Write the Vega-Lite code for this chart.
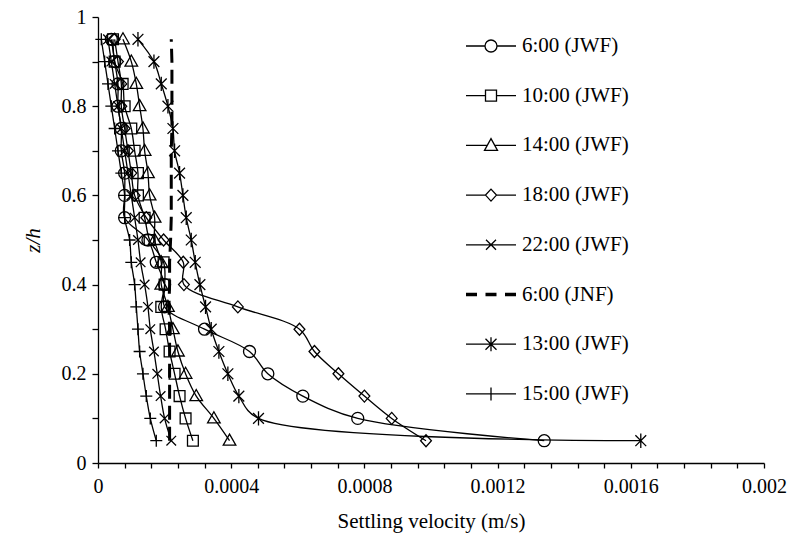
{
  "$schema": "https://vega.github.io/schema/vega-lite/v6.json",
  "width": 666,
  "height": 446,
  "autosize": {"type": "none"},
  "padding": {"left": 98, "top": 17, "right": 28, "bottom": 93},
  "background": "white",
  "config": {
    "view": {"stroke": null},
    "font": "serif",
    "style": {
      "guide-label": {"font": "serif"},
      "guide-title": {"font": "serif"}
    },
    "axis": {
      "grid": false,
      "domainColor": "black",
      "domainWidth": 1.3,
      "tickColor": "black",
      "tickWidth": 1.3,
      "labelColor": "black",
      "titleColor": "black",
      "labelFont": "serif",
      "titleFont": "serif",
      "labelFontSize": 20,
      "titleFontSize": 21,
      "titleFontWeight": "normal",
      "labelOverlap": false,
      "labelFlush": false,
      "labelBound": false
    },
    "axisY": {"titleFontStyle": "italic"}
  },
  "data": {
    "values": [
      {"series": "6:00 (JWF)", "z": 0.95, "v": 0.00004},
      {"series": "6:00 (JWF)", "z": 0.9, "v": 0.00005},
      {"series": "6:00 (JWF)", "z": 0.85, "v": 0.00006},
      {"series": "6:00 (JWF)", "z": 0.8, "v": 0.00006},
      {"series": "6:00 (JWF)", "z": 0.75, "v": 0.00007},
      {"series": "6:00 (JWF)", "z": 0.7, "v": 0.00007},
      {"series": "6:00 (JWF)", "z": 0.65, "v": 0.00008},
      {"series": "6:00 (JWF)", "z": 0.6, "v": 0.00008},
      {"series": "6:00 (JWF)", "z": 0.55, "v": 0.00008},
      {"series": "6:00 (JWF)", "z": 0.5, "v": 0.00015},
      {"series": "6:00 (JWF)", "z": 0.45, "v": 0.000175},
      {"series": "6:00 (JWF)", "z": 0.4, "v": 0.0002},
      {"series": "6:00 (JWF)", "z": 0.35, "v": 0.0002},
      {"series": "6:00 (JWF)", "z": 0.3, "v": 0.00032},
      {"series": "6:00 (JWF)", "z": 0.25, "v": 0.000455},
      {"series": "6:00 (JWF)", "z": 0.2, "v": 0.00051},
      {"series": "6:00 (JWF)", "z": 0.15, "v": 0.000615},
      {"series": "6:00 (JWF)", "z": 0.1, "v": 0.00078},
      {"series": "6:00 (JWF)", "z": 0.05, "v": 0.00134},

      {"series": "10:00 (JWF)", "z": 0.95, "v": 0.000045},
      {"series": "10:00 (JWF)", "z": 0.9, "v": 0.00005},
      {"series": "10:00 (JWF)", "z": 0.85, "v": 0.000074},
      {"series": "10:00 (JWF)", "z": 0.8, "v": 0.00008},
      {"series": "10:00 (JWF)", "z": 0.75, "v": 0.0001},
      {"series": "10:00 (JWF)", "z": 0.7, "v": 0.00011},
      {"series": "10:00 (JWF)", "z": 0.65, "v": 0.00012},
      {"series": "10:00 (JWF)", "z": 0.6, "v": 0.00012},
      {"series": "10:00 (JWF)", "z": 0.55, "v": 0.00014},
      {"series": "10:00 (JWF)", "z": 0.5, "v": 0.000155},
      {"series": "10:00 (JWF)", "z": 0.45, "v": 0.000197},
      {"series": "10:00 (JWF)", "z": 0.4, "v": 0.0002},
      {"series": "10:00 (JWF)", "z": 0.35, "v": 0.00019},
      {"series": "10:00 (JWF)", "z": 0.3, "v": 0.000203},
      {"series": "10:00 (JWF)", "z": 0.25, "v": 0.000215},
      {"series": "10:00 (JWF)", "z": 0.2, "v": 0.00023},
      {"series": "10:00 (JWF)", "z": 0.15, "v": 0.000245},
      {"series": "10:00 (JWF)", "z": 0.1, "v": 0.000263},
      {"series": "10:00 (JWF)", "z": 0.05, "v": 0.000285},

      {"series": "14:00 (JWF)", "z": 0.95, "v": 0.000075},
      {"series": "14:00 (JWF)", "z": 0.9, "v": 0.0001},
      {"series": "14:00 (JWF)", "z": 0.85, "v": 0.000115},
      {"series": "14:00 (JWF)", "z": 0.8, "v": 0.000125},
      {"series": "14:00 (JWF)", "z": 0.75, "v": 0.000135},
      {"series": "14:00 (JWF)", "z": 0.7, "v": 0.00014},
      {"series": "14:00 (JWF)", "z": 0.65, "v": 0.00015},
      {"series": "14:00 (JWF)", "z": 0.6, "v": 0.000155},
      {"series": "14:00 (JWF)", "z": 0.55, "v": 0.00017},
      {"series": "14:00 (JWF)", "z": 0.5, "v": 0.00017},
      {"series": "14:00 (JWF)", "z": 0.45, "v": 0.00019},
      {"series": "14:00 (JWF)", "z": 0.4, "v": 0.00019},
      {"series": "14:00 (JWF)", "z": 0.35, "v": 0.00021},
      {"series": "14:00 (JWF)", "z": 0.3, "v": 0.000225},
      {"series": "14:00 (JWF)", "z": 0.25, "v": 0.00024},
      {"series": "14:00 (JWF)", "z": 0.2, "v": 0.000263},
      {"series": "14:00 (JWF)", "z": 0.15, "v": 0.000295},
      {"series": "14:00 (JWF)", "z": 0.1, "v": 0.000348},
      {"series": "14:00 (JWF)", "z": 0.05, "v": 0.000395},

      {"series": "18:00 (JWF)", "z": 0.95, "v": 0.00005},
      {"series": "18:00 (JWF)", "z": 0.9, "v": 0.00006},
      {"series": "18:00 (JWF)", "z": 0.85, "v": 0.00007},
      {"series": "18:00 (JWF)", "z": 0.8, "v": 0.00007},
      {"series": "18:00 (JWF)", "z": 0.75, "v": 0.00008},
      {"series": "18:00 (JWF)", "z": 0.7, "v": 0.00009},
      {"series": "18:00 (JWF)", "z": 0.65, "v": 0.0001},
      {"series": "18:00 (JWF)", "z": 0.6, "v": 0.00011},
      {"series": "18:00 (JWF)", "z": 0.55, "v": 0.000145},
      {"series": "18:00 (JWF)", "z": 0.5, "v": 0.000197},
      {"series": "18:00 (JWF)", "z": 0.45, "v": 0.000256},
      {"series": "18:00 (JWF)", "z": 0.4, "v": 0.000258},
      {"series": "18:00 (JWF)", "z": 0.35, "v": 0.00042},
      {"series": "18:00 (JWF)", "z": 0.3, "v": 0.000605},
      {"series": "18:00 (JWF)", "z": 0.25, "v": 0.00065},
      {"series": "18:00 (JWF)", "z": 0.2, "v": 0.000722},
      {"series": "18:00 (JWF)", "z": 0.15, "v": 0.0008},
      {"series": "18:00 (JWF)", "z": 0.1, "v": 0.000882},
      {"series": "18:00 (JWF)", "z": 0.05, "v": 0.000985},

      {"series": "22:00 (JWF)", "z": 0.95, "v": 0.00003},
      {"series": "22:00 (JWF)", "z": 0.9, "v": 0.00004},
      {"series": "22:00 (JWF)", "z": 0.85, "v": 0.00005},
      {"series": "22:00 (JWF)", "z": 0.8, "v": 0.00006},
      {"series": "22:00 (JWF)", "z": 0.75, "v": 0.00007},
      {"series": "22:00 (JWF)", "z": 0.7, "v": 0.00008},
      {"series": "22:00 (JWF)", "z": 0.65, "v": 0.00009},
      {"series": "22:00 (JWF)", "z": 0.6, "v": 0.0001},
      {"series": "22:00 (JWF)", "z": 0.55, "v": 0.00011},
      {"series": "22:00 (JWF)", "z": 0.5, "v": 0.00012},
      {"series": "22:00 (JWF)", "z": 0.45, "v": 0.000128},
      {"series": "22:00 (JWF)", "z": 0.4, "v": 0.00014},
      {"series": "22:00 (JWF)", "z": 0.35, "v": 0.00015},
      {"series": "22:00 (JWF)", "z": 0.3, "v": 0.000157},
      {"series": "22:00 (JWF)", "z": 0.25, "v": 0.000168},
      {"series": "22:00 (JWF)", "z": 0.2, "v": 0.000178},
      {"series": "22:00 (JWF)", "z": 0.15, "v": 0.000188},
      {"series": "22:00 (JWF)", "z": 0.1, "v": 0.0002},
      {"series": "22:00 (JWF)", "z": 0.05, "v": 0.00022},

      {"series": "6:00 (JNF)", "z": 0.95, "v": 0.00022},
      {"series": "6:00 (JNF)", "z": 0.9, "v": 0.000222},
      {"series": "6:00 (JNF)", "z": 0.85, "v": 0.000222},
      {"series": "6:00 (JNF)", "z": 0.8, "v": 0.000222},
      {"series": "6:00 (JNF)", "z": 0.75, "v": 0.000222},
      {"series": "6:00 (JNF)", "z": 0.7, "v": 0.00022},
      {"series": "6:00 (JNF)", "z": 0.65, "v": 0.00022},
      {"series": "6:00 (JNF)", "z": 0.6, "v": 0.00022},
      {"series": "6:00 (JNF)", "z": 0.55, "v": 0.00022},
      {"series": "6:00 (JNF)", "z": 0.5, "v": 0.000218},
      {"series": "6:00 (JNF)", "z": 0.45, "v": 0.000215},
      {"series": "6:00 (JNF)", "z": 0.4, "v": 0.000215},
      {"series": "6:00 (JNF)", "z": 0.35, "v": 0.000213},
      {"series": "6:00 (JNF)", "z": 0.3, "v": 0.000215},
      {"series": "6:00 (JNF)", "z": 0.25, "v": 0.000215},
      {"series": "6:00 (JNF)", "z": 0.2, "v": 0.000215},
      {"series": "6:00 (JNF)", "z": 0.15, "v": 0.000215},
      {"series": "6:00 (JNF)", "z": 0.1, "v": 0.000215},
      {"series": "6:00 (JNF)", "z": 0.05, "v": 0.000215},

      {"series": "13:00 (JWF)", "z": 0.95, "v": 0.00012},
      {"series": "13:00 (JWF)", "z": 0.9, "v": 0.000168},
      {"series": "13:00 (JWF)", "z": 0.85, "v": 0.00019},
      {"series": "13:00 (JWF)", "z": 0.8, "v": 0.00021},
      {"series": "13:00 (JWF)", "z": 0.75, "v": 0.000225},
      {"series": "13:00 (JWF)", "z": 0.7, "v": 0.00023},
      {"series": "13:00 (JWF)", "z": 0.65, "v": 0.000245},
      {"series": "13:00 (JWF)", "z": 0.6, "v": 0.000255},
      {"series": "13:00 (JWF)", "z": 0.55, "v": 0.000265},
      {"series": "13:00 (JWF)", "z": 0.5, "v": 0.00028},
      {"series": "13:00 (JWF)", "z": 0.45, "v": 0.000292},
      {"series": "13:00 (JWF)", "z": 0.4, "v": 0.000306},
      {"series": "13:00 (JWF)", "z": 0.35, "v": 0.000323},
      {"series": "13:00 (JWF)", "z": 0.3, "v": 0.00034},
      {"series": "13:00 (JWF)", "z": 0.25, "v": 0.000363},
      {"series": "13:00 (JWF)", "z": 0.2, "v": 0.00039},
      {"series": "13:00 (JWF)", "z": 0.15, "v": 0.000423},
      {"series": "13:00 (JWF)", "z": 0.1, "v": 0.000482},
      {"series": "13:00 (JWF)", "z": 0.05, "v": 0.00163},

      {"series": "15:00 (JWF)", "z": 0.95, "v": 0.00001},
      {"series": "15:00 (JWF)", "z": 0.9, "v": 0.00002},
      {"series": "15:00 (JWF)", "z": 0.85, "v": 0.00003},
      {"series": "15:00 (JWF)", "z": 0.8, "v": 0.00004},
      {"series": "15:00 (JWF)", "z": 0.75, "v": 0.00005},
      {"series": "15:00 (JWF)", "z": 0.7, "v": 0.00006},
      {"series": "15:00 (JWF)", "z": 0.65, "v": 0.00007},
      {"series": "15:00 (JWF)", "z": 0.6, "v": 0.00008},
      {"series": "15:00 (JWF)", "z": 0.55, "v": 0.00008},
      {"series": "15:00 (JWF)", "z": 0.5, "v": 0.000095},
      {"series": "15:00 (JWF)", "z": 0.45, "v": 0.0001},
      {"series": "15:00 (JWF)", "z": 0.4, "v": 0.00011},
      {"series": "15:00 (JWF)", "z": 0.35, "v": 0.000115},
      {"series": "15:00 (JWF)", "z": 0.3, "v": 0.00012},
      {"series": "15:00 (JWF)", "z": 0.25, "v": 0.000125},
      {"series": "15:00 (JWF)", "z": 0.2, "v": 0.000135},
      {"series": "15:00 (JWF)", "z": 0.15, "v": 0.000145},
      {"series": "15:00 (JWF)", "z": 0.1, "v": 0.000157},
      {"series": "15:00 (JWF)", "z": 0.05, "v": 0.000175}
    ]
  },
  "encoding": {
    "x": {
      "field": "v",
      "type": "quantitative",
      "scale": {"domain": [0, 0.002], "nice": false, "zero": false},
      "axis": {
        "title": "Settling velocity (m/s)",
        "values": [0, 0.00008, 0.00016, 0.00024, 0.00032, 0.0004, 0.00048, 0.00056, 0.00064, 0.00072, 0.0008, 0.00088, 0.00096, 0.00104, 0.00112, 0.0012, 0.00128, 0.00136, 0.00144, 0.00152, 0.0016, 0.00168, 0.00176, 0.00184, 0.00192, 0.002],
        "labelExpr": "indexof([0, 0.0004, 0.0008, 0.0012, 0.0016, 0.002], datum.value) >= 0 ? format(datum.value, '~g') : ''",
        "tickSize": 5,
        "labelPadding": 8,
        "titlePadding": 14
      }
    },
    "y": {
      "field": "z",
      "type": "quantitative",
      "scale": {"domain": [0, 1], "nice": false, "zero": false},
      "axis": {
        "title": "z/h",
        "values": [0, 0.1, 0.2, 0.3, 0.4, 0.5, 0.6, 0.7, 0.8, 0.9, 1],
        "labelExpr": "indexof([0, 0.2, 0.4, 0.6, 0.8, 1], datum.value) >= 0 ? format(datum.value, '~g') : ''",
        "tickSize": 6,
        "labelPadding": 6,
        "titlePadding": 18
      }
    }
  },
  "layer": [
    {
      "transform": [{"filter": "datum.series !== '6:00 (JNF)'"}],
      "mark": {"type": "line", "interpolate": "catmull-rom", "stroke": "black", "strokeWidth": 1.3},
      "encoding": {
        "detail": {"field": "series"},
        "order": {"field": "z", "type": "quantitative"}
      }
    },
    {
      "transform": [{"filter": "datum.series === '6:00 (JNF)'"}],
      "mark": {"type": "line", "stroke": "black", "strokeWidth": 3, "strokeDash": [14, 7]},
      "encoding": {
        "order": {"field": "z", "type": "quantitative"}
      }
    },
    {
      "transform": [{"filter": "datum.series !== '6:00 (JNF)'"}],
      "mark": {"type": "point", "filled": false, "color": "black", "strokeWidth": 1.3, "size": 144, "opacity": 1},
      "encoding": {
        "shape": {
          "field": "series",
          "type": "nominal",
          "scale": {
            "domain": ["6:00 (JWF)", "10:00 (JWF)", "14:00 (JWF)", "18:00 (JWF)", "22:00 (JWF)", "13:00 (JWF)", "15:00 (JWF)"],
            "range": [
              "M1,0A1,1 0 1,1 -1,0A1,1 0 1,1 1,0Z",
              "M-0.9,-0.9L0.9,-0.9L0.9,0.9L-0.9,0.9Z",
              "M0,-1.1L1.05,0.75L-1.05,0.75Z",
              "M0,-1L0.9,0L0,1L-0.9,0Z",
              "M-0.8,-0.8L0.8,0.8M-0.8,0.8L0.8,-0.8",
              "M-0.9,-0.9L0.9,0.9M-0.9,0.9L0.9,-0.9M0,-1.2L0,1.2",
              "M-1,0L1,0M0,-1L0,1"
            ]
          },
          "legend": null
        }
      }
    },
    {
      "mark": {"type": "point", "filled": false, "color": "black", "opacity": 0, "size": 2500},
      "encoding": {
        "shape": {
          "field": "series",
          "type": "nominal",
          "scale": {
            "domain": ["6:00 (JWF)", "10:00 (JWF)", "14:00 (JWF)", "18:00 (JWF)", "22:00 (JWF)", "6:00 (JNF)", "13:00 (JWF)", "15:00 (JWF)"],
            "range": [
              "M-1,0L-0.24,0M0.24,0L1,0M0.24,0A0.24,0.24 0 1,1 -0.24,0A0.24,0.24 0 1,1 0.24,0Z",
              "M-1,0L-0.22,0M0.22,0L1,0M-0.22,-0.22L0.22,-0.22L0.22,0.22L-0.22,0.22Z",
              "M-1,0L-0.15,0M0.15,0L1,0M0,-0.27L0.26,0.2L-0.26,0.2Z",
              "M-1,0L-0.22,0M0.22,0L1,0M0,-0.24L0.22,0L0,0.24L-0.22,0Z",
              "M-1,0L1,0M-0.2,-0.2L0.2,0.2M-0.2,0.2L0.2,-0.2",
              "M-1,-0.045L-0.56,-0.045M-1,0L-0.56,0M-1,0.045L-0.56,0.045M-0.22,-0.045L0.22,-0.045M-0.22,0L0.22,0M-0.22,0.045L0.22,0.045M0.56,-0.045L1,-0.045M0.56,0L1,0M0.56,0.045L1,0.045",
              "M-1,0L1,0M-0.22,-0.22L0.22,0.22M-0.22,0.22L0.22,-0.22M0,-0.28L0,0.28",
              "M-1,0L1,0M0,-0.26L0,0.26"
            ]
          },
          "legend": {
            "title": null,
            "orient": "none",
            "legendX": 367,
            "legendY": 3,
            "padding": 0,
            "symbolSize": 2500,
            "labelFont": "Times New Roman",
            "labelFontSize": 21,
            "labelColor": "black",
            "labelOffset": 5,
            "labelLimit": 300,
            "rowPadding": 13.7,
            "symbolOpacity": 1,
            "symbolFillColor": "transparent",
            "symbolStrokeColor": "black",
            "symbolStrokeWidth": 1.3
          }
        }
      }
    }
  ],
  "resolve": {"scale": {"shape": "independent"}}
}
